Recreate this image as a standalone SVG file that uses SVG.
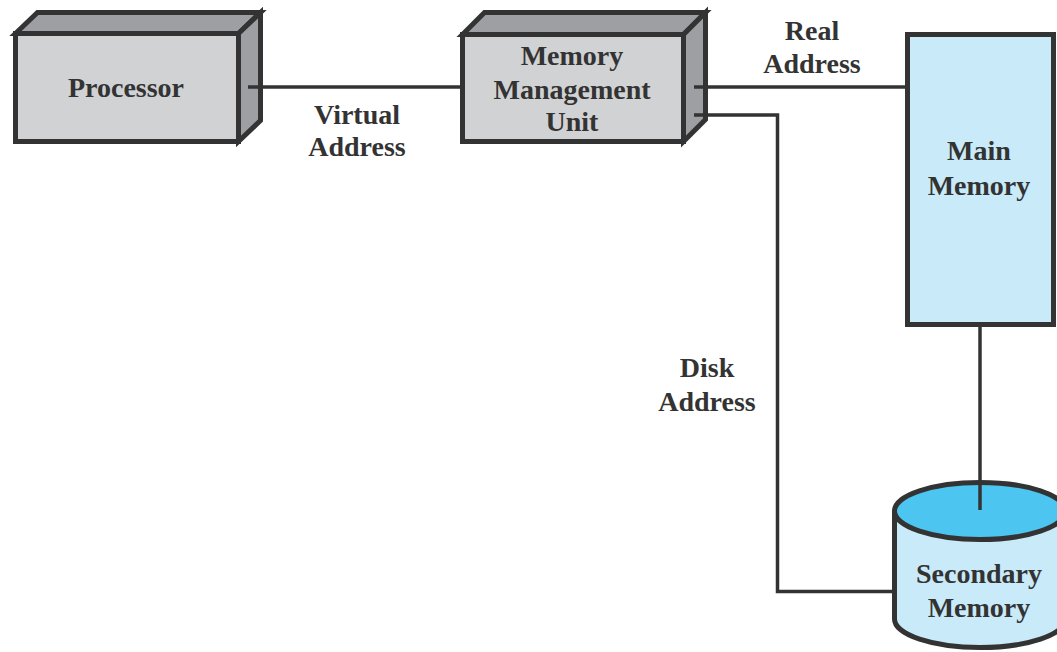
<svg xmlns="http://www.w3.org/2000/svg" width="1057" height="652" viewBox="0 0 1057 652">
<style>
.front{fill:#d1d2d4;stroke:#333;stroke-width:5;stroke-linejoin:miter}
.side{fill:#9d9fa2;stroke:#333;stroke-width:5;stroke-linejoin:miter}
.mem{fill:#c8eaf9;stroke:#333;stroke-width:5}
.top{fill:#4cc6f1;stroke:#333;stroke-width:5}
.conn{fill:none;stroke:#333;stroke-width:3.5}
text{font-family:"Liberation Serif","Times New Roman",serif;font-weight:bold;font-size:28px;fill:#333;text-anchor:middle}
</style>
<rect width="1057" height="652" fill="#fff"/>
<g id="processor">
<rect class="front" x="15.5" y="33.5" width="223" height="108"/>
<path class="side" d="M15.5,33.5 L37.5,12.5 L260.5,12.5 L238.5,33.5 Z"/>
<path class="side" d="M238.5,33.5 L260.5,12.5 L260.5,120.5 L238.5,141.5 Z"/>
<text x="126" y="97">Processor</text>
</g>
<g id="mmu">
<rect class="front" x="462.5" y="34.5" width="221" height="107"/>
<path class="side" d="M462.5,34.5 L484.5,12.5 L705.5,12.5 L683.5,34.5 Z"/>
<path class="side" d="M683.5,34.5 L705.5,12.5 L705.5,119.5 L683.5,141.5 Z"/>
<text x="572" y="65">Memory</text>
<text x="572" y="99">Management</text>
<text x="572" y="131">Unit</text>
</g>
<g id="main-memory">
<rect class="mem" x="907.5" y="34.5" width="146" height="290"/>
<text x="979" y="160">Main</text>
<text x="979" y="195">Memory</text>
</g>
<g id="secondary-memory">
<path class="mem" d="M894.5,511 L894.5,619 A85.5,28.5 0 0 0 1065.5,619 L1065.5,511"/>
<ellipse class="top" cx="980" cy="511" rx="85.5" ry="28.5"/>
<text x="979" y="583">Secondary</text>
<text x="979" y="617">Memory</text>
</g>
<g id="connectors">
<path class="conn" d="M248,87 L462,87"/>
<path class="conn" d="M694,87 L907,87"/>
<path class="conn" d="M694,115 L777.5,115 L777.5,591.5 L894,591.5"/>
<path class="conn" d="M980,327 L980,510"/>
</g>
<g id="labels">
<text x="357" y="124">Virtual</text>
<text x="357" y="156">Address</text>
<text x="812" y="40">Real</text>
<text x="812" y="73">Address</text>
<text x="707" y="377">Disk</text>
<text x="707" y="411">Address</text>
</g>
</svg>
